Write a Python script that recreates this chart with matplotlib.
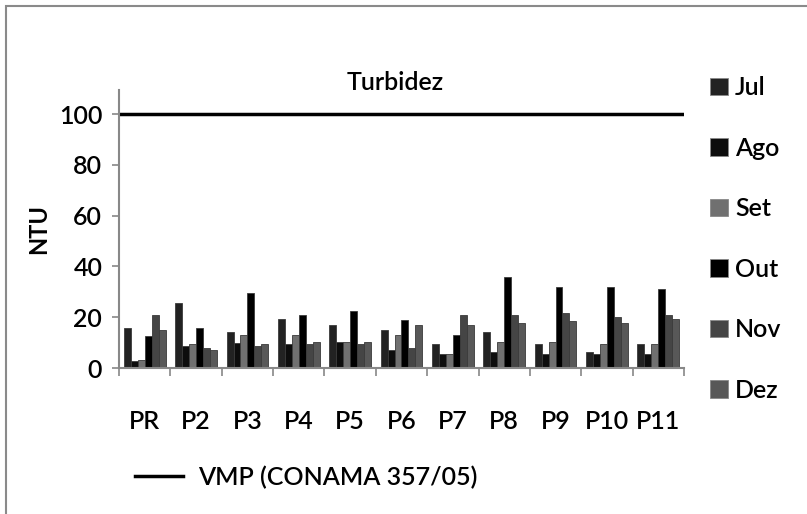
import matplotlib.pyplot as plt
import matplotlib.patches as mpatches
from matplotlib.lines import Line2D
import numpy as np

plt.rcParams['font.family'] = ['Lato', 'DejaVu Sans']
plt.rcParams['font.weight'] = 'semibold'

points = ['PR', 'P2', 'P3', 'P4', 'P5', 'P6', 'P7', 'P8', 'P9', 'P10', 'P11']
months = ['Jul', 'Ago', 'Set', 'Out', 'Nov', 'Dez']
jul = [15.6, 25.8, 14.2, 19.5, 17.1, 14.9, 9.4, 14.0, 9.4, 6.3, 9.4]
ago = [2.9, 8.6, 9.9, 9.4, 10.2, 7.1, 5.5, 6.3, 5.5, 5.5, 5.5]
set_ = [3.1, 9.4, 13.1, 13.1, 10.2, 13.1, 5.5, 10.1, 10.1, 9.4, 9.4]
out = [12.5, 15.7, 29.7, 21.0, 22.6, 18.8, 13.2, 35.7, 31.8, 31.8, 31.0]
nov = [20.9, 8.0, 8.6, 9.4, 9.4, 7.8, 20.9, 20.9, 21.8, 20.1, 20.9]
dez = [14.9, 7.2, 9.4, 10.2, 10.2, 17.0, 17.0, 17.8, 18.7, 17.9, 19.5]
vmp = 100

series = [jul, ago, set_, out, nov, dez]
colors = ['#222222', '#0d0d0d', '#707070', '#000000', '#454545', '#585858']

fig = plt.figure(figsize=(8.07, 5.14), dpi=100)
ax = fig.add_axes([0.1475, 0.284, 0.7, 0.541])

x = np.arange(len(points))
w = 0.135
for i, (vals, c) in enumerate(zip(series, colors)):
    ax.bar(x + (i - 2.5) * w, vals, width=w, color=c, edgecolor='#3a3a3a', linewidth=0.6, label=months[i])

ax.axhline(vmp, color='black', linewidth=2.5)

ax.set_xlim(-0.5, len(points) - 0.5)
ax.set_ylim(0, 109.5)
ax.set_yticks([0, 20, 40, 60, 80, 100])
ax.set_xticks(x)
ax.set_xticklabels(points)
ax.set_xticks(np.arange(-0.5, len(points)), minor=True)
ax.tick_params(axis='x', which='major', length=0, pad=30, labelsize=18)
ax.tick_params(axis='x', which='minor', length=6, width=1.2, color='#888888')
ax.tick_params(axis='y', length=5, width=1.2, color='#888888', pad=7, labelsize=18)
for s in ['top', 'right']:
    ax.spines[s].set_visible(False)
for s in ['left', 'bottom']:
    ax.spines[s].set_color('#888888')
    ax.spines[s].set_linewidth(1.5)

ax.set_ylabel('NTU', fontsize=17, fontweight='bold', labelpad=6)
fig.text(0.49, 0.84, 'Turbidez', fontsize=18, ha='center', va='center')

handles = [mpatches.Patch(facecolor=c, edgecolor='#888888', linewidth=0.6) for c in colors]
fig.legend(handles, months, loc='upper left', bbox_to_anchor=(0.852, 0.895), frameon=False,
           fontsize=18, handlelength=0.7, handleheight=0.7, handletextpad=0.3, labelspacing=1.5)

fig.legend([Line2D([0], [0], color='black', linewidth=2.5)], ['VMP (CONAMA 357/05)'],
           loc='center left', bbox_to_anchor=(0.14, 0.072), frameon=False,
           fontsize=18, handlelength=1.9, handletextpad=0.6)

fig.patches.append(mpatches.Rectangle((6 / 807, -0.1), 1.1, 1.1 - 6 / 514,
                                      transform=fig.transFigure, fill=False,
                                      edgecolor='#8a8a8a', linewidth=1.5))

fig.savefig('out.png', dpi=100)
